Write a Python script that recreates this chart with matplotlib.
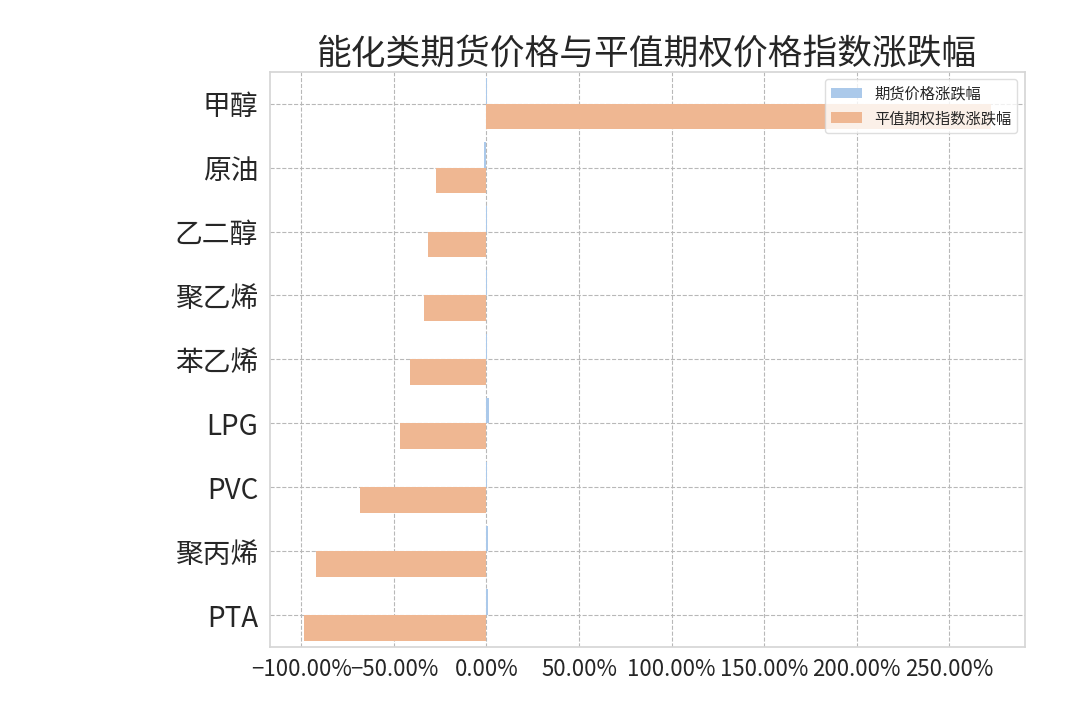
import numpy as np
import matplotlib
matplotlib.use("Agg")
import matplotlib.pyplot as plt
from matplotlib.ticker import PercentFormatter

plt.rcParams['font.family'] = ['Noto Sans CJK SC', 'DejaVu Sans']
plt.rcParams['axes.unicode_minus'] = True

# top to bottom, values in %
categories = ['甲醇', '原油', '乙二醇', '聚乙烯', '苯乙烯', 'LPG', 'PVC', '聚丙烯', 'PTA']
futures_chg = [0.2, -1.5, 0.1, 0.2, 0.5, 1.5, 0.3, 0.6, 1.0]
option_idx_chg = [272.4, -27.0, -31.7, -33.5, -41.2, -46.5, -68.1, -91.9, -98.4]
series_names = ['期货价格涨跌幅', '平值期权指数涨跌幅']

BLUE = '#abc9ea'
ORANGE = '#efb792'
TEXT = '#262626'

fig = plt.figure(figsize=(10.8, 7.2), dpi=100)
ax = fig.add_axes([0.25, 0.1014, 0.699, 0.799])

y = np.arange(len(categories))
h = 0.4
ax.barh(y - h / 2, futures_chg, height=h, color=BLUE, label=series_names[0], zorder=2)
ax.barh(y + h / 2, option_idx_chg, height=h, color=ORANGE, label=series_names[1], zorder=2)

ax.set_ylim(len(categories) - 0.5, -0.5)
ax.set_yticks(y)
ax.set_yticklabels(categories)
ax.xaxis.set_major_locator(plt.MultipleLocator(50))
ax.xaxis.set_major_formatter(PercentFormatter(xmax=100, decimals=2))

ax.grid(True, linestyle='--', color='#b8b8b8', linewidth=0.8, zorder=0)
ax.set_axisbelow(True)
for s in ax.spines.values():
    s.set_color('#d6d6d6')
    s.set_linewidth(1.25)
ax.tick_params(axis='y', length=0, pad=8.5, labelsize=20, labelcolor=TEXT)
ax.tick_params(axis='x', length=0, pad=8, labelsize=16, labelcolor=TEXT)

ax.set_title('能化类期货价格与平值期权价格指数涨跌幅', fontsize=25, color=TEXT, pad=4)
ax.legend(loc='upper right', fontsize=11, frameon=True, framealpha=0.8,
          edgecolor='#d6d6d6', labelcolor=TEXT)

fig.savefig('out.png', dpi=100)
plt.close(fig)
